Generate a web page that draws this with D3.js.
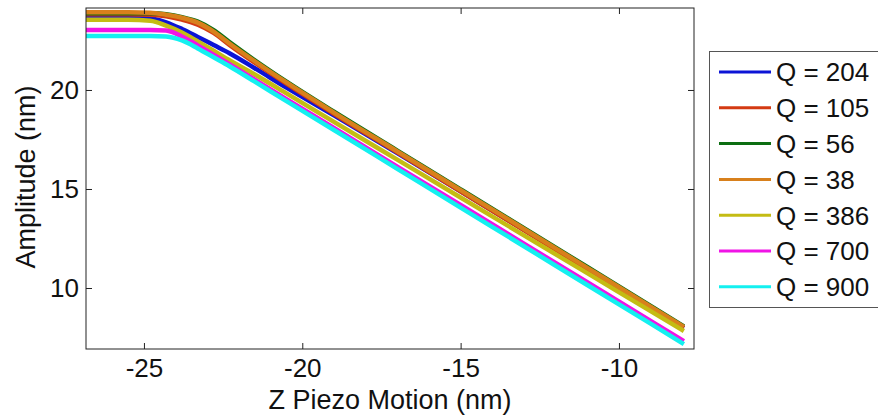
<!DOCTYPE html>
<html><head><meta charset="utf-8">
<script src="https://cdn.jsdelivr.net/npm/d3@7"></script>
<style>
html,body{margin:0;padding:0;background:#fff;}
svg text{font-family:"Liberation Sans",Arial,sans-serif;fill:#111;}
</style></head>
<body><svg id="chart" width="878" height="418"></svg>
<script>
// Z piezo motion knots (nm)
const zKnots = [-26.83, -25.5, -24.8, -24.3, -23.8, -23.3, -22.8, -22.3, -21.5, -20.5, -19, -17, -15, -13, -11, -9, -7.95];
// Amplitude (nm) per series at those knots
const ampQ204 = [23.72, 23.72, 23.62, 23.42, 23.08, 22.68, 22.27, 21.86, 21.1, 20.12, 18.72, 16.82, 14.88, 12.94, 10.98, 9.02, 7.98];
const ampQ105 = [23.82, 23.82, 23.8, 23.72, 23.55, 23.3, 22.88, 22.28, 21.38, 20.32, 18.8, 16.85, 14.88, 12.92, 10.96, 9.0, 7.98];
const ampQ56  = [23.88, 23.88, 23.87, 23.82, 23.68, 23.45, 23.02, 22.42, 21.5, 20.42, 18.9, 16.94, 14.98, 13.02, 11.06, 9.1, 8.06];
const ampQ38  = [23.92, 23.92, 23.9, 23.8, 23.65, 23.4, 22.95, 22.35, 21.45, 20.38, 18.86, 16.9, 14.94, 12.98, 11.02, 9.06, 8.03];
const ampQ386 = [23.55, 23.55, 23.5, 23.25, 22.9, 22.45, 21.98, 21.5, 20.78, 19.83, 18.39, 16.48, 14.57, 12.66, 10.75, 8.83, 7.83];
const ampQ700 = [23.03, 23.03, 23.03, 23.0, 22.7, 22.25, 21.78, 21.3, 20.52, 19.54, 18.08, 16.13, 14.19, 12.24, 10.29, 8.34, 7.32];
const ampQ900 = [22.73, 22.73, 22.73, 22.7, 22.5, 22.1, 21.65, 21.2, 20.42, 19.44, 17.98, 16.02, 14.06, 12.11, 10.15, 8.2, 7.17];

const seriesLabels = ["Q = 204", "Q = 105", "Q = 56", "Q = 38", "Q = 386", "Q = 700", "Q = 900"];
const seriesValues = [ampQ204, ampQ105, ampQ56, ampQ38, ampQ386, ampQ700, ampQ900];
const seriesColors = ["#0c14d6", "#d43a12", "#0c6e12", "#d8801c", "#c4bc14", "#f014e6", "#14f0f0"];

const xTicks = [-25, -20, -15, -10];
const yTicks = [10, 15, 20];
const xDomain = [-26.83, -7.63];
const yDomain = [6.92, 24.14];

const svg = d3.select("#chart");
const L = 86, R = 694, T = 8, B = 349;
const x = d3.scaleLinear().domain(xDomain).range([L, R]);
const y = d3.scaleLinear().domain(yDomain).range([B, T]);

svg.append("defs").append("clipPath").attr("id", "clip")
  .append("rect").attr("x", L).attr("y", T).attr("width", R - L).attr("height", B - T);

const line = d3.line().x(d => x(d[0])).y(d => y(d[1])).curve(d3.curveMonotoneX);
const g = svg.append("g").attr("clip-path", "url(#clip)");
seriesValues.forEach((vals, i) => {
  g.append("path")
    .datum(zKnots.map((z, k) => [z, vals[k]]))
    .attr("d", line)
    .attr("fill", "none")
    .attr("stroke", seriesColors[i])
    .attr("stroke-width", 4.5)
    .attr("stroke-linejoin", "round");
});

// axes (MATLAB-like box with inward ticks)
const tickLen = 6;
const axB = svg.append("g").attr("transform", `translate(0,${B})`)
  .call(d3.axisBottom(x).tickValues(xTicks).tickSizeInner(-tickLen).tickSizeOuter(0).tickPadding(10));
const axT = svg.append("g").attr("transform", `translate(0,${T})`)
  .call(d3.axisTop(x).tickValues(xTicks).tickSizeInner(-tickLen).tickSizeOuter(0).tickFormat(""));
const axL = svg.append("g").attr("transform", `translate(${L},0)`)
  .call(d3.axisLeft(y).tickValues(yTicks).tickSizeInner(-tickLen).tickSizeOuter(0).tickPadding(7));
const axR = svg.append("g").attr("transform", `translate(${R},0)`)
  .call(d3.axisRight(y).tickValues(yTicks).tickSizeInner(-tickLen).tickSizeOuter(0).tickFormat(""));
[axB, axT, axL, axR].forEach(a => {
  a.selectAll(".domain").remove();
  a.selectAll("line").attr("stroke", "#222");
  a.selectAll("text").style("font-size", "26px").attr("fill", "#111");
});
axB.selectAll("text").text(d => String(d));
svg.append("rect").attr("x", L).attr("y", T).attr("width", R - L).attr("height", B - T)
  .attr("fill", "none").attr("stroke", "#222").attr("stroke-width", 1);

svg.append("text").attr("x", 390).attr("y", 409).attr("text-anchor", "middle")
  .style("font-size", "27px").text("Z Piezo Motion (nm)");
svg.append("text").attr("transform", "translate(35,177) rotate(-90)").attr("text-anchor", "middle")
  .style("font-size", "27px").text("Amplitude (nm)");

// legend
const lg = svg.append("g");
lg.append("rect").attr("x", 709.5).attr("y", 51.5).attr("width", 180).attr("height", 256)
  .attr("fill", "#fff").attr("stroke", "#555").attr("stroke-width", 1);
seriesLabels.forEach((lab, i) => {
  const cy = 72 + i * 35.8;
  lg.append("line").attr("x1", 719).attr("x2", 771).attr("y1", cy).attr("y2", cy)
    .attr("stroke", seriesColors[i]).attr("stroke-width", 3);
  lg.append("text").attr("x", 776).attr("y", cy).attr("dy", "0.36em")
    .style("font-size", "26px").text(lab);
});
</script></body></html>
